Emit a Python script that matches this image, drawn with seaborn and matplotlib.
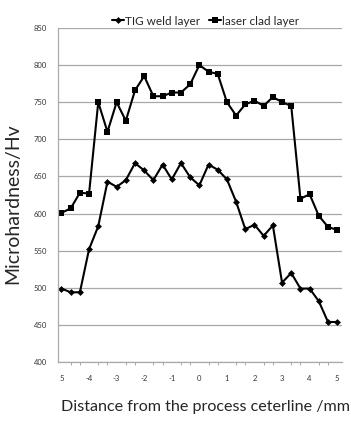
import matplotlib
matplotlib.use("Agg")

import matplotlib.pyplot as plt
import numpy as np
import pandas as pd
import seaborn as sns

# positions along the traverse, every 1/3 mm from -5 to 5
distance = np.round(np.linspace(-5, 5, 31), 3)

tig_weld = [
    499, 494, 494, 552, 583, 643, 636, 645, 668, 658,
    645, 666, 646, 668, 649, 638, 666, 659, 646, 616,
    579, 585, 570, 584, 507, 520, 499, 499, 482, 454,
    454,
]
laser_clad = [
    601, 607, 628, 627, 750, 710, 750, 725, 766, 785,
    758, 758, 763, 763, 774, 800, 791, 788, 750, 732,
    747, 752, 745, 757, 750, 745, 620, 626, 597, 582,
    578,
]

x_ticks = [-5, -4, -3, -2, -1, 0, 1, 2, 3, 4, 5]
x_tick_labels = ["5", "-4", "-3", "-2", "-1", "0", "1", "2", "3", "4", "5"]
y_ticks = [400, 450, 500, 550, 600, 650, 700, 750, 800, 850]


def main() -> None:
    sns.set_theme(style="white")
    plt.rcParams["font.family"] = ["Lato", "DejaVu Sans"]

    df = pd.concat(
        [
            pd.DataFrame({"x": distance, "hv": tig_weld, "layer": "TIG weld layer"}),
            pd.DataFrame({"x": distance, "hv": laser_clad, "layer": "laser clad layer"}),
        ],
        ignore_index=True,
    )

    fig = plt.figure(figsize=(3.51, 4.23), dpi=100)
    ax = fig.add_axes([0.165, 0.144, 0.809, 0.79])

    sns.lineplot(
        data=df, x="x", y="hv", hue="layer", style="layer",
        palette=["black", "black"],
        markers={"TIG weld layer": "D", "laser clad layer": "s"},
        dashes=False, linewidth=1.5, markeredgewidth=0,
        ax=ax, legend=True,
    )
    for line in ax.lines:
        if line.get_marker() == "D":
            line.set_markersize(3.5)
        else:
            line.set_markersize(5)

    ax.set_xlim(-5.13, 5.17)
    ax.set_ylim(400, 850)
    ax.set_yticks(y_ticks)
    ax.set_xticks(x_ticks)
    ax.set_xticklabels(x_tick_labels)
    ax.set_xticks(distance, minor=True)
    ax.yaxis.grid(True, color="#a8a8a8", linewidth=0.9)
    ax.tick_params(axis="y", length=0, pad=8, labelsize=5.5, labelcolor="#333333")
    ax.tick_params(axis="x", which="major", length=0, pad=9, labelsize=5.5, labelcolor="#333333")
    ax.tick_params(axis="x", which="minor", length=2, width=0.6, color="#999999", bottom=True)

    for side in ["top", "right"]:
        ax.spines[side].set_visible(False)
    for side in ["left", "bottom"]:
        ax.spines[side].set_color("#aaaaaa")
        ax.spines[side].set_linewidth(0.9)

    ax.set_xlabel("Distance from the process ceterline /mm", fontsize=11.6)
    ax.set_ylabel("Microhardness/Hv", fontsize=14)
    ax.xaxis.set_label_coords(0.52, -0.112)
    ax.yaxis.set_label_coords(-0.13, 0.473)

    handles, labels = ax.get_legend_handles_labels()
    ax.legend(
        handles, labels, loc="lower center", bbox_to_anchor=(0.52, 0.99),
        ncol=2, frameon=False, fontsize=8.5, handlelength=1.0,
        handletextpad=0.1, columnspacing=0.7, borderaxespad=0,
    )

    fig.savefig("out.png", dpi=100)
    plt.close(fig)


if __name__ == "__main__":
    main()
